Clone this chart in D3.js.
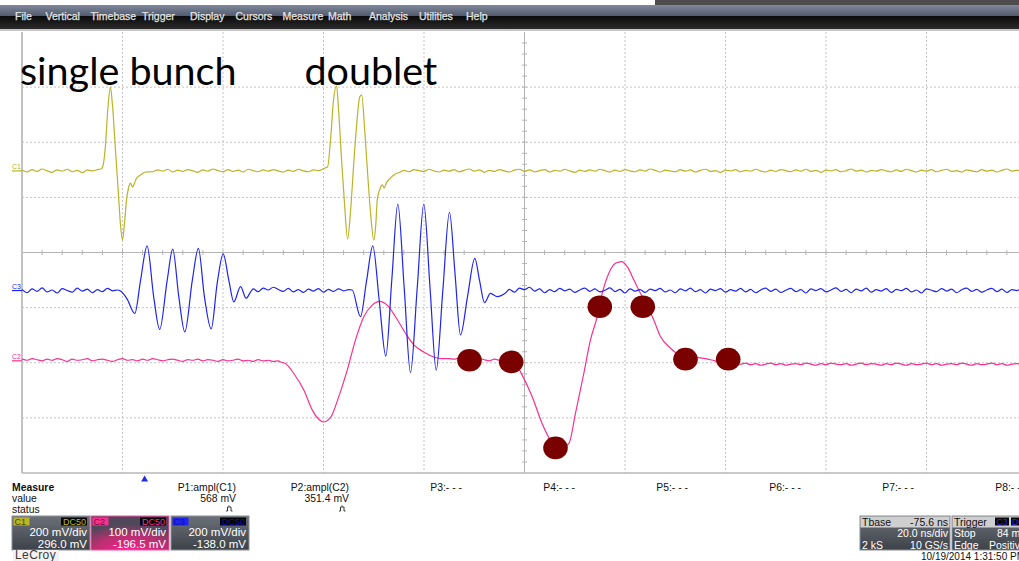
<!DOCTYPE html>
<html lang="en">
<head>
<meta charset="UTF-8">
<title>Scope capture</title>
<script src="https://d3js.org/d3.v7.min.js"></script>
<style>
  body { margin: 0; background: #fff; }
  svg { display: block; font-family: 'Liberation Sans', Arial, sans-serif; }
</style>
</head>
<body>
<div id="scope"></div>
<script>
// channel settings as shown on the scope
const channels = ["C1", "C2", "C3"];
const voltsPerDiv = [200, 100, 200];      // mV/div
const offsets = [296.0, -196.5, -138.0];  // mV
const triggerTime = -75.6;                // ns

// traces: [time ns, mV]
const c1 = [[-100,3],[-99,-4],[-98,5],[-97,-2],[-96,7],[-95,0],[-94,-5],[-93,4],[-92,-1],[-91,6],[-90,-3],[-89,2],[-88,-6],[-87,4],[-86,0],[-85,5],
  [-84.4,6],[-84,12],[-83.4,90],[-82.9,230],[-82.4,304],[-82.0,239],[-81.4,76],[-80.8,-87],[-80.4,-196],[-80.0,-251],[-79.6,-189],[-79.2,-105],[-78.8,-62],[-78.4,-44],[-78.0,-58],[-77.6,-44],[-77.2,-26],[-76.4,-15],[-75.4,-4],
  [-74,-3],[-73,4],[-72,-1],[-71,6],[-70,-4],[-69,3],[-68,-2],[-67,5],[-66,0],[-65,-5],[-64,4],[-63,-1],[-62,7],[-61,1],[-60,-3],[-59,5],[-58,-2],[-57,3],[-56,-4],[-55,6],[-54,1],[-53,-3],[-52,4],[-51,-1],[-50,5],[-49,0],[-48,-4],[-47,3],[-46,-2],[-45,6],[-44,0],[-43,-3],[-42,4],[-41,1],[-40,8],[-39.5,12],
  [-39.2,14],[-38.6,112],[-38.0,258],[-37.4,308],[-37.0,221],[-36.4,40],[-35.8,-124],[-35.2,-247],[-34.6,-142],[-34.0,22],[-33.4,167],[-32.8,268],[-32.4,276],[-31.8,149],[-31.2,-15],[-30.6,-160],[-30.0,-251],[-29.6,-196],[-29.3,-105],[-28.7,-62],[-28.3,-51],[-27.9,-62],[-27.5,-44],[-26.7,-26],[-25.7,-11],[-24.7,-4],
  [-24,2],[-23,-3],[-22,5],[-21,1],[-20,-2],[-19,6],[-18,0],[-17,-4],[-16,3],[-15,-1],[-14,5],[-13,-3],[-12,2],[-11,7],[-10,-1],[-9,4],[-8,-5],[-7,2],[-6,-2],[-5,5],[-4,0],[-3,-4],[-2,3],[-1,6],
  [0,-2],[1,4],[2,-3],[3,1],[4,5],[5,-4],[6,2],[7,-1],[8,6],[9,0],[10,-5],[11,3],[12,-2],[13,4],[14,-1],[15,6],[16,1],[17,-4],[18,3],[19,-2],[20,5],[21,0],[22,-3],[23,4],[24,-1],[25,7],[26,2],[27,-4],[28,3],[29,0],
  [30,-3],[31,5],[32,-1],[33,4],[34,-4],[35,2],[36,6],[37,-2],[38,1],[39,-5],[40,3],[41,0],[42,5],[43,-3],[44,2],[45,-1],[46,6],[47,0],[48,-4],[49,3],[50,-2],[51,5],[52,1],[53,-3],[54,4],[55,-1],[56,6],[57,-2],[58,2],[59,-5],
  [60,3],[61,0],[62,5],[63,-3],[64,1],[65,7],[66,-1],[67,3],[68,-4],[69,2],[70,-1],[71,5],[72,0],[73,-3],[74,4],[75,-2],[76,6],[77,1],[78,-4],[79,3],[80,-1],[81,5],[82,-3],[83,2],[84,6],[85,-2],[86,1],[87,-4],[88,4],[89,0],
  [90,-3],[91,5],[92,-1],[93,3],[94,-4],[95,2],[96,7],[97,-1],[98,3],[99,-3],[100,2]];

const c2 = [[-100,3],[-99,1],[-98,4],[-97,2],[-96,0],[-95,3],[-94,1],[-93,4],[-92,2],[-91,-1],[-90,3],[-89,1],[-88,2],[-87,4],[-86,0],[-85,2],[-84,3],[-83,1],[-82,-1],[-81,2],[-80,4],[-79,1],[-78,2],[-77,0],[-76,3],[-75,1],
  [-74,4],[-73,2],[-72,0],[-71,2],[-70,3],[-69,1],[-68,-1],[-67,2],[-66,1],[-65,3],[-64,0],[-63,2],[-62,1],[-61,-1],[-60,2],[-59,0],[-58,1],[-57,3],[-56,0],[-55,1],[-54,-1],[-53,2],[-52,0],[-51,1],[-50,-1],[-49,0],
  [-48.56,-2],[-47.56,-5],[-45.91,-23],[-43.92,-53],[-42.25,-89],[-40.94,-106],[-40.06,-111],[-38.61,-103],[-36.96,-65],[-35.28,-17],[-33.63,38],[-31.98,80],[-30.31,101],[-28.86,108],[-27.32,101],[-25.67,80],[-23.68,50],[-22.03,29],[-20.04,16],[-18.05,7],[-16.5,4],
  [-15,4],[-14,3],[-13,5],[-12,2],[-11,3],[-10,1],[-9,4],[-8,2],[-7,0],[-6,3],[-5,1],[-4,-1],[-3,1],[-2,-2],
  [-0.8,-20],[1.53,-65],[3.52,-114],[5.17,-144],[6.6,-160],[8.82,-150],[10.15,-95],[11.8,-23],[13.13,38],[14.47,80],[15.46,122],[16.78,159],[18.11,177],[19.3,180],[20.44,171],[21.75,147],[22.75,128],[24.42,101],[25.73,74],[27.06,44],[29.05,23],[31.04,10],[33.69,7],[36,4],
  [37,2],[38,0],[39,-2],[40,-3],[41,-4],[42,-5],[43,-6],[44,-4],[45,-7],[46,-5],[47,-8],[48,-6],[49,-4],[50,-7],[51,-5],[52,-8],[53,-6],[54,-5],[55,-7],[56,-4],[57,-6],[58,-8],[59,-5],[60,-7],[61,-4],[62,-6],[63,-7],[64,-5],[65,-8],[66,-6],[67,-4],[68,-7],
  [69,-5],[70,-6],[71,-8],[72,-5],[73,-7],[74,-4],[75,-6],[76,-8],[77,-5],[78,-7],[79,-6],[80,-4],[81,-7],[82,-5],[83,-8],[84,-6],[85,-5],[86,-7],[87,-4],[88,-6],[89,-8],[90,-5],[91,-7],[92,-6],[93,-4],[94,-7],[95,-5],[96,-8],[97,-6],[98,-5],[99,-7],[100,-6]];

const c3 = [[-100,4],[-99,-8],[-98,6],[-97,-3],[-96,10],[-95,-5],[-94,2],[-93,-9],[-92,7],[-91,0],[-90,-6],[-89,9],[-88,-2],[-87,5],[-86,-8],[-85,3],[-84,-4],[-83,8],[-82,-1],[-81,2],
  [-80.4,-2],[-79.1,-30],[-77.55,-83],[-76.4,38],[-75.1,162],[-73.8,-22],[-72.6,-141],[-71.1,38],[-70.0,150],[-68.8,-22],[-67.6,-150],[-66.1,38],[-64.9,153],[-63.7,-22],[-62.35,-139],[-61.15,27],[-59.96,133],[-58.85,38],[-57.85,-41],[-56.5,14],[-55.4,-28],[-54.5,-5],
  [-54,6],[-53,-4],[-52,9],[-51,2],[-50,12],[-49,4],[-48,-3],[-47,8],[-46,-5],[-45,3],[-44,-7],[-43,5],[-42,-2],[-41,7],[-40,-6],[-39,4],[-38,-3],[-37,6],[-36,-1],[-35,3],[-34.3,2],
  [-32.64,-95],[-31.44,34],[-30.19,162],[-28.9,-38],[-27.6,-238],[-26.41,38],[-25.21,314],[-23.94,9],[-22.69,-298],[-21.35,9],[-20.04,314],[-18.81,13],[-17.57,-289],[-16.26,-2],[-14.93,284],[-13.83,62],[-12.74,-161],[-11.34,-22],[-9.89,117],[-8.96,38],[-7.96,-44],[-6.77,-10],[-5.43,-22],[-3.78,-9],
  [-3,4],[-2,-6],[-1,9],[0,3],[1,12],[2,-2],[3,6],[4,-8],[5,3],[6,-4],[7,8],[8,-1],[9,5],[10,-7],[11,2],[12,9],[13,-3],[14,6],[15,-5],[16,1],[17,10],[18,-4],[19,4],[20,-9],[21,6],[22,-2],[23,3],[24,-7],[25,5],[26,0],[27,8],[28,-5],[29,2],
  [30,-8],[31,6],[32,-1],[33,9],[34,-4],[35,3],[36,-9],[37,5],[38,0],[39,7],[40,-6],[41,3],[42,-2],[43,8],[44,-5],[45,4],[46,-8],[47,2],[48,9],[49,-3],[50,5],[51,-7],[52,1],[53,8],[54,-4],[55,3],[56,-9],[57,6],[58,0],[59,7],
  [60,-5],[61,2],[62,10],[63,-3],[64,4],[65,-8],[66,5],[67,-1],[68,9],[69,-6],[70,3],[71,-2],[72,7],[73,-7],[74,4],[75,0],[76,8],[77,-5],[78,2],[79,-9],[80,6],[81,1],[82,-4],[83,7],[84,-2],[85,5],[86,-8],[87,3],[88,9],[89,-3],
  [90,4],[91,-6],[92,2],[93,8],[94,-4],[95,5],[96,-7],[97,3],[98,0],[99,6],[100,-2]];

// sample markers placed on the C2 trace (time ns, mV on C2)
const dotTimes = [-10.95, -2.65, 6.17, 14.99, 23.54, 32.04, 40.54];
const dotValues = [1, -2, -158, 98, 98, 3, 3];

// labels
const annotations = ["single bunch", "doublet"];
const annotationTimes = [-100.4, -43.8];
const menuItems = ["File", "Vertical", "Timebase", "Trigger", "Display", "Cursors", "Measure", "Math", "Analysis", "Utilities", "Help"];
const measureNames = ["P1:ampl(C1)", "P2:ampl(C2)", "P3:- - -", "P4:- - -", "P5:- - -", "P6:- - -", "P7:- - -", "P8:- - -"];
const measureValues = ["568 mV", "351.4 mV", "", "", "", "", "", ""];
const measureStatus = [true, true, false, false, false, false, false, false];
const channelDivText = ["200 mV/div", "100 mV/div", "200 mV/div"];
const channelOffsetText = ["296.0 mV", "-196.5 mV", "-138.0 mV"];
const tbaseRows = [["Tbase", "-75.6 ns"], ["", "20.0 ns/div"], ["2 kS", "10 GS/s"]];
const triggerRows = [["Trigger", ""], ["Stop", "84 mV"], ["Edge", "Positive"]];
const dateText = "10/19/2014 1:31:50 PM";

const colors = {C1: "#bab426", C2: "#f7318f", C3: "#1f24f0"};

const W = 1019, H = 561;
const svg = d3.select("#scope").append("svg").attr("width", W).attr("height", H);
const defs = svg.append("defs");

function vgrad(id, stops) {
  const g = defs.append("linearGradient").attr("id", id).attr("x1", 0).attr("x2", 0).attr("y1", 0).attr("y2", 1);
  stops.forEach(s => g.append("stop").attr("offset", s[0]).attr("stop-color", s[1]));
}
vgrad("menuTop", [[0, "#7f889c"], [1, "#535b6e"]]);
vgrad("menuBot", [[0, "#0b0b0b"], [1, "#2a2a2a"]]);
vgrad("boxFill", [[0, "#6c7078"], [1, "#3d4148"]]);
const rg = defs.append("radialGradient").attr("id", "c2glow").attr("cx", 0.5).attr("cy", 1.05).attr("r", 0.8);
rg.append("stop").attr("offset", 0).attr("stop-color", "#ff1c93");
rg.append("stop").attr("offset", 0.6).attr("stop-color", "#b8306f");
rg.append("stop").attr("offset", 1).attr("stop-color", "#50485a");

// ---- top menu ----
svg.append("rect").attr("x", 655).attr("y", 0).attr("width", W - 655).attr("height", 5).attr("fill", "#4d4d4d");
svg.append("rect").attr("x", 0).attr("y", 5).attr("width", W).attr("height", 11).attr("fill", "url(#menuTop)");
svg.append("rect").attr("x", 0).attr("y", 16).attr("width", W).attr("height", 13).attr("fill", "url(#menuBot)");
svg.append("rect").attr("x", 0).attr("y", 29).attr("width", W).attr("height", 2).attr("fill", "#c6c6c6");
const menuX = [15, 45.5, 90.5, 142, 190, 235.5, 282.5, 328, 369, 419, 466];
svg.selectAll(".menu").data(menuItems).join("text")
  .attr("x", (d, i) => menuX[i]).attr("y", 20)
  .attr("font-size", 10.5).attr("fill", "#e4e4e4")
  .attr("stroke", "#e4e4e4").attr("stroke-width", 0.25)
  .text(d => d);

// ---- scales ----
const x = d3.scaleLinear().domain([-100, 100]).range([22, 1027]);
const yDiv = d3.scaleLinear().domain([-4, 4]).range([473, 32]);
const yCh = (ch, v) => yDiv((v + offsets[ch]) / voltsPerDiv[ch]);

// ---- graticule ----
const grid = svg.append("g");
grid.selectAll(".vg").data(d3.range(-80, 100, 20).filter(t => t !== 0)).join("line")
  .attr("x1", d => x(d)).attr("x2", d => x(d)).attr("y1", yDiv(4)).attr("y2", yDiv(-4))
  .attr("stroke", "#c4c4c4").attr("stroke-dasharray", "2,2");
grid.selectAll(".hg").data([-3, -2, -1, 1, 2, 3]).join("line")
  .attr("x1", x(-100)).attr("x2", W).attr("y1", d => yDiv(d)).attr("y2", d => yDiv(d))
  .attr("stroke", "#c4c4c4").attr("stroke-dasharray", "2,2");
// center cross with minor ticks
grid.append("line").attr("x1", x(-100)).attr("x2", W).attr("y1", yDiv(0)).attr("y2", yDiv(0)).attr("stroke", "#b4b4b4");
grid.append("line").attr("x1", x(0)).attr("x2", x(0)).attr("y1", yDiv(4)).attr("y2", yDiv(-4)).attr("stroke", "#b4b4b4");
grid.selectAll(".xt").data(d3.range(-96, 100, 4)).join("line")
  .attr("x1", d => x(d)).attr("x2", d => x(d)).attr("y1", yDiv(0) - 2.5).attr("y2", yDiv(0) + 2.5).attr("stroke", "#b4b4b4");
grid.selectAll(".yt").data(d3.range(-3.8, 4, 0.2)).join("line")
  .attr("x1", x(0) - 2.5).attr("x2", x(0) + 2.5).attr("y1", d => yDiv(d)).attr("y2", d => yDiv(d)).attr("stroke", "#b4b4b4");
// frame
grid.append("line").attr("x1", x(-100)).attr("x2", x(-100)).attr("y1", yDiv(4)).attr("y2", yDiv(-4)).attr("stroke", "#c2c2c2").attr("stroke-width", 2);
grid.append("line").attr("x1", x(-100)).attr("x2", W).attr("y1", yDiv(-4)).attr("y2", yDiv(-4)).attr("stroke", "#b8b8b8").attr("stroke-width", 1.5);

// ---- channel ground markers ----
[0, 2, 1].forEach(ch => {
  const y0 = yCh(ch, 0);
  const col = colors[channels[ch]];
  svg.append("line").attr("x1", 12).attr("x2", 22).attr("y1", y0).attr("y2", y0).attr("stroke", col).attr("stroke-width", 1.2);
  svg.append("text").attr("x", 12).attr("y", y0 - 2).attr("font-size", 7).attr("fill", col).text(channels[ch]);
});

// ---- traces ----
const traces = [c1, c2, c3];
traces.forEach((data, ch) => {
  const line = d3.line().x(d => x(d[0])).y(d => yCh(ch, d[1])).curve(d3.curveMonotoneX);
  svg.append("path").datum(data).attr("d", line)
    .attr("fill", "none").attr("stroke", colors[channels[ch]]).attr("stroke-width", 1.2)
    .attr("stroke-linejoin", "round");
});

// ---- sample dots ----
svg.selectAll(".dot").data(dotTimes).join("ellipse")
  .attr("cx", d => x(d)).attr("cy", (d, i) => yCh(1, dotValues[i]))
  .attr("rx", 12.3).attr("ry", 11.3).attr("fill", "#7a0000");

// ---- annotations ----
svg.selectAll(".ann").data(annotations).join("text")
  .attr("x", (d, i) => x(annotationTimes[i])).attr("y", 85)
  .attr("font-family", "Lato, 'Open Sans', sans-serif").attr("font-size", 39.5).attr("fill", "#000")
  .text(d => d);

// trigger marker
const tx = x(triggerTime);
svg.append("path").attr("d", `M${tx - 3.5},481.5L${tx},475.5L${tx + 3.5},481.5Z`).attr("fill", "#1f2ee0");

// ---- measure panel ----
const mp = svg.append("g").attr("font-size", 10.4).attr("fill", "#111");
mp.append("text").attr("x", 12).attr("y", 491).attr("font-weight", "bold").text("Measure");
mp.append("text").attr("x", 12).attr("y", 502).text("value");
mp.append("text").attr("x", 12).attr("y", 513).text("status");
measureNames.forEach((name, i) => {
  const rx = 236 + 113 * i;
  mp.append("text").attr("x", rx).attr("y", 491).attr("text-anchor", "end").text(name);
  if (measureValues[i]) mp.append("text").attr("x", rx).attr("y", 502).attr("text-anchor", "end").text(measureValues[i]);
  if (measureStatus[i]) {
    mp.append("path").attr("d", `M${rx - 10},511h1.5v-4h3.5v4h1.5M${rx - 7},506.5v-1.2`)
      .attr("fill", "none").attr("stroke", "#222").attr("stroke-width", 0.9);
  }
});

// ---- channel boxes ----
const boxX = [12, 91, 171];
channels.forEach((c, i) => {
  const g = svg.append("g").attr("transform", `translate(${boxX[i]},516)`);
  g.append("rect").attr("width", 78).attr("height", 34)
    .attr("fill", i === 1 ? "url(#c2glow)" : "url(#boxFill)")
    .attr("stroke", i === 1 ? "#ff4fa8" : "#8a8e96").attr("stroke-width", 1);
  g.append("rect").attr("x", 1.5).attr("y", 1.5).attr("width", 16).attr("height", 8).attr("fill", colors[c]);
  g.append("text").attr("x", 2.5).attr("y", 9).attr("font-size", 9)
    .attr("fill", i === 0 ? "#4a4600" : (i === 1 ? "#7a0f45" : "#1010a0")).text(c);
  g.append("rect").attr("x", 49).attr("y", 1.5).attr("width", 26).attr("height", 8).attr("fill", "#050505");
  g.append("text").attr("x", 74).attr("y", 9).attr("font-size", 9).attr("text-anchor", "end")
    .attr("fill", i === 2 ? "#1010b0" : colors[c]).text("DC50");
  g.append("text").attr("x", 75).attr("y", 20).attr("font-size", 11.5).attr("text-anchor", "end").attr("fill", "#fff").text(channelDivText[i]);
  g.append("text").attr("x", 75).attr("y", 32).attr("font-size", 11.5).attr("text-anchor", "end").attr("fill", "#fff").text(channelOffsetText[i]);
});
svg.append("rect").attr("x", 13).attr("y", 550).attr("width", 46).attr("height", 11).attr("fill", "#f2f2f2");
svg.append("text").attr("x", 15).attr("y", 559).attr("font-size", 12).attr("fill", "#3a3a3a").attr("letter-spacing", 0.4).text("LeCroy");

// ---- timebase / trigger boxes ----
function infoBox(x0, w, rows, extra) {
  const g = svg.append("g").attr("transform", `translate(${x0},516)`);
  g.append("rect").attr("width", w).attr("height", 34).attr("fill", "url(#boxFill)").attr("stroke", "#8a8e96");
  g.append("rect").attr("x", 0.5).attr("y", 0.5).attr("width", w - 1).attr("height", 11).attr("fill", "#cfcfcf");
  rows.forEach((r, j) => {
    const yy = 9.5 + j * 11.5;
    const fill = j === 0 ? "#111" : "#fff";
    g.append("text").attr("x", 2).attr("y", yy).attr("font-size", 10.5).attr("fill", fill).text(r[0]);
    if (r[1]) {
      if (extra && extra[j] != null) g.append("text").attr("x", extra[j]).attr("y", yy).attr("font-size", 10.5).attr("fill", fill).text(r[1]);
      else g.append("text").attr("x", w - 2).attr("y", yy).attr("font-size", 10.5).attr("text-anchor", "end").attr("fill", fill).text(r[1]);
    }
  });
  return g;
}
infoBox(860, 90, tbaseRows);
const trg = infoBox(952, 90, triggerRows, [null, 45, 37]);
trg.append("rect").attr("x", 43).attr("y", 1.5).attr("width", 14).attr("height", 8).attr("fill", "#080808");
trg.append("text").attr("x", 44.5).attr("y", 9).attr("font-size", 8.5).attr("fill", "#2a2ad0").text("C3");
trg.append("rect").attr("x", 59).attr("y", 1.5).attr("width", 20).attr("height", 8).attr("fill", "#080808");
trg.append("text").attr("x", 60).attr("y", 9).attr("font-size", 8.5).attr("fill", "#2a2ad0").text("DC");

svg.append("text").attr("x", 921).attr("y", 559.5).attr("font-size", 10).attr("fill", "#111").text(dateText);
</script>
</body>
</html>
